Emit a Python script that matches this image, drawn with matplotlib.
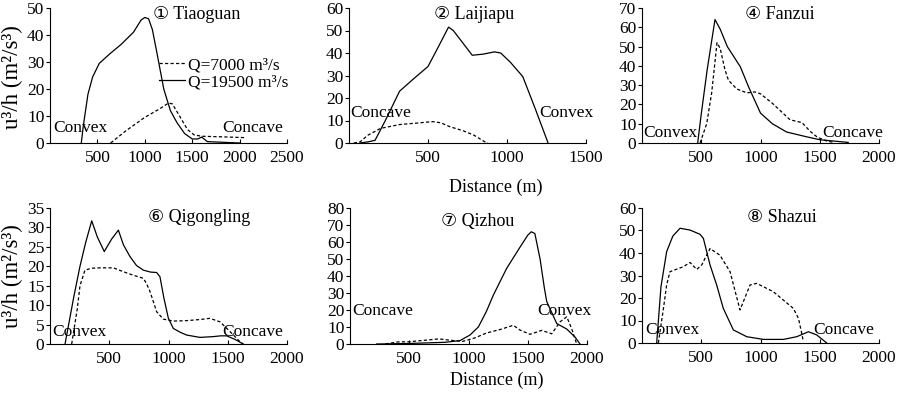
import matplotlib
matplotlib.use("Agg")
import matplotlib.pyplot as plt

plt.rcParams['font.family'] = ['Liberation Serif', 'DejaVu Sans']
plt.rcParams['font.size'] = 12.5
plt.rcParams['mathtext.fontset'] = 'stix'

# ---------------- data ----------------
titles = ["① Tiaoguan", "② Laijiapu", "④ Fanzui", "⑥ Qigongling", "⑦ Qizhou", "⑧ Shazui"]
legend_labels = ["Q=7000 m³/s", "Q=19500 m³/s"]

# ① Tiaoguan
t_x_hi = [330, 350, 400, 450, 520, 630, 750, 880, 960, 1000, 1040, 1080, 1130, 1200, 1270, 1340, 1420, 1500, 1560, 1600, 1660, 1800, 2000]
t_y_hi = [0, 6, 18, 24.5, 29.5, 33, 36.5, 41, 45.5, 46.5, 46, 42, 33, 20, 12, 7.5, 3.5, 1.5, 1.5, 2.2, 0.5, 0.3, 0]
t_x_lo = [640, 800, 1000, 1150, 1250, 1290, 1370, 1450, 1520, 1600, 1800, 2050]
t_y_lo = [0, 4.5, 9.5, 12.5, 14.8, 14.5, 9.8, 5, 3, 2.5, 2.3, 2.0]

# ② Laijiapu
l_x_hi = [70, 120, 165, 230, 320, 400, 500, 560, 630, 660, 780, 850, 920, 960, 1020, 1100, 1180, 1260]
l_y_hi = [0, 0.5, 1.2, 10, 23, 28, 34, 42, 51.5, 50, 39, 39.5, 40.5, 40, 36, 29.5, 15, 0]
l_x_lo = [30, 70, 120, 200, 320, 420, 530, 580, 640, 720, 790, 860, 880]
l_y_lo = [0, 0.5, 3.5, 6.5, 8.2, 8.8, 9.5, 9, 7.2, 5.5, 3.5, 0.5, 0]

# ④ Fanzui
f_x_hi = [470, 500, 550, 616, 660, 720, 830, 900, 1000, 1100, 1220, 1390, 1500, 1740]
f_y_hi = [0, 15, 38, 64, 59, 50, 39.5, 29, 15.5, 10, 5.7, 3.2, 1.7, 0.3]
f_x_lo = [490, 546, 588, 633, 660, 700, 730, 800, 886, 950, 1000, 1100, 1250, 1350, 1420, 1480, 1560, 1620]
f_y_lo = [0, 10, 26, 52, 49, 38, 32.5, 28, 26, 26.5, 25.5, 20.6, 12, 10.6, 6, 3, 1, 0.3]

# ⑥ Qigongling
q_x_hi = [127, 200, 253, 300, 352, 400, 458, 520, 577, 620, 675, 730, 788, 850, 900, 928, 960, 999, 1041, 1100, 1153, 1266, 1378, 1440, 1491, 1560, 1630]
q_y_hi = [0, 12, 20, 26, 31.7, 27.5, 23.8, 27, 29.3, 25.5, 22.5, 20.2, 19, 18.5, 18.4, 17.3, 12, 6.6, 4, 3, 2.3, 1.7, 1.9, 2.1, 2.1, 1.2, 0]
q_x_lo = [183, 230, 253, 295, 350, 422, 535, 619, 703, 788, 815, 844, 900, 956, 1041, 1150, 1266, 1350, 1435, 1519, 1603, 1630]
q_y_lo = [0, 9, 15, 19, 19.5, 19.6, 19.6, 18.6, 17.7, 16.9, 15.5, 13.5, 8.3, 6.4, 5.9, 6, 6.3, 6.6, 5.7, 3.2, 0.6, 0]

# ⑦ Qizhou
z_x_hi = [225, 500, 800, 928, 1013, 1083, 1150, 1210, 1322, 1435, 1500, 1530, 1560, 1604, 1640, 1660, 1745, 1829, 1900, 1941]
z_y_hi = [0, 0.3, 1, 2, 5.3, 10, 19, 28.8, 44.5, 57, 64, 66, 65, 50, 33, 25, 12, 8.8, 4, 0]
z_x_lo = [300, 400, 500, 600, 750, 850, 950, 1050, 1153, 1266, 1378, 1435, 1519, 1618, 1702, 1772, 1829, 1871, 1913]
z_y_lo = [0, 1.2, 1.3, 2, 3, 2.2, 1.5, 3.5, 6.5, 8.5, 11, 8.2, 5.7, 8.0, 6.0, 13, 16, 9, 0]

# ⑧ Shazui
s_x_hi = [124, 160, 208, 260, 321, 405, 490, 518, 574, 630, 686, 771, 884, 1024, 1193, 1306, 1404, 1474, 1559]
s_y_hi = [0, 25, 40.6, 47.5, 51, 50.2, 48.3, 46.5, 34.7, 25.8, 15.4, 5.8, 2.8, 1.6, 1.6, 2.8, 5, 3.6, 0]
s_x_lo = [138, 180, 208, 236, 349, 405, 462, 504, 574, 658, 743, 827, 912, 968, 1108, 1277, 1320, 1345, 1362]
s_y_lo = [0, 15, 25.8, 31.7, 33.9, 35.8, 32.7, 34.7, 42, 39, 31.7, 14.7, 25.8, 26.5, 22.8, 15.4, 11, 5, 0.6]

x_max = [2500, 1500, 2000, 2000, 2000, 2000]
y_max = [50, 60, 70, 35, 80, 60]
y_step = [10, 10, 10, 5, 10, 10]

# annotations: (text, x, y) in data coords
notes = [
    [("Convex", 30, 5.5), ("Concave", 1814, 5.5)],
    [("Concave", 5, 13.3), ("Convex", 1203, 13.3)],
    [("Convex", 8, 5.2), ("Concave", 1519, 5.2)],
    [("Convex", 17, 3.1), ("Concave", 1451, 3.1)],
    [("Concave", 17, 19.4), ("Convex", 1578, 19.4)],
    [("Convex", 25, 5.8), ("Concave", 1443, 5.8)],
]
title_pos = [(0.62, 0.955), (0.53, 0.955), (0.58, 0.955), (0.63, 0.93), (0.54, 0.90), (0.59, 0.93)]

series = [
    (t_x_lo, t_y_lo, t_x_hi, t_y_hi),
    (l_x_lo, l_y_lo, l_x_hi, l_y_hi),
    (f_x_lo, f_y_lo, f_x_hi, f_y_hi),
    (q_x_lo, q_y_lo, q_x_hi, q_y_hi),
    (z_x_lo, z_y_lo, z_x_hi, z_y_hi),
    (s_x_lo, s_y_lo, s_x_hi, s_y_hi),
]

# ---------------- figure ----------------
fig = plt.figure(figsize=(9, 3.93), dpi=100)
W, H = 900.0, 393.0
lefts = [50, 349, 642, 50, 350, 642]
zeros = [143, 143, 143, 344, 344, 343]
tops = [8, 8, 8, 208, 208, 208]
aw = 237

for i in range(6):
    ax = fig.add_axes([lefts[i] / W, (H - zeros[i]) / H, aw / W, (zeros[i] - tops[i]) / H])
    xl, yl, xh, yh = series[i]
    ax.plot(xl, yl, color='black', lw=0.9, linestyle=(0, (2.6, 1.8)), label=legend_labels[0])
    ax.plot(xh, yh, color='black', lw=0.9, linestyle='-', label=legend_labels[1])
    ax.set_xlim(0, x_max[i])
    ax.set_ylim(0, y_max[i])
    ax.set_xticks(list(range(500, x_max[i] + 1, 500)))
    ax.set_yticks(list(range(0, y_max[i] + 1, y_step[i])))
    for s in ['top', 'right']:
        ax.spines[s].set_visible(False)
    for s in ['left', 'bottom']:
        ax.spines[s].set_linewidth(0.8)
    ax.tick_params(axis='x', direction='in', length=3, width=0.8, pad=5, labelsize=12.5)
    ax.tick_params(axis='y', direction='out', length=3, width=0.8, pad=1, labelsize=12.5)
    ax.patch.set_alpha(0)
    ax.text(title_pos[i][0], title_pos[i][1], titles[i], transform=ax.transAxes,
            ha='center', va='center', fontsize=13,
            family=['Liberation Serif', 'DejaVu Sans'])
    for (txt, nx, ny) in notes[i]:
        ax.text(nx, ny, txt, ha='left', va='center', fontsize=12.5)
    if i == 0:
        ax.legend(loc='upper left', bbox_to_anchor=(0.46, 0.635), frameon=False,
                  handlelength=1.5, handletextpad=0.15, labelspacing=0.05,
                  borderpad=0, borderaxespad=0, fontsize=12.5)

fig.text(12 / W, 1 - 77 / H, "u³/h (m²/s³)", rotation=90, ha='center', va='center', fontsize=16.5)
fig.text(12 / W, 1 - 276 / H, "u³/h (m²/s³)", rotation=90, ha='center', va='center', fontsize=16.5)
fig.text(496 / W, 1 - 187 / H, "Distance (m)", ha='center', va='center', fontsize=13)
fig.text(497 / W, 1 - 380 / H, "Distance (m)", ha='center', va='center', fontsize=13)

fig.savefig("out.png", dpi=100)
